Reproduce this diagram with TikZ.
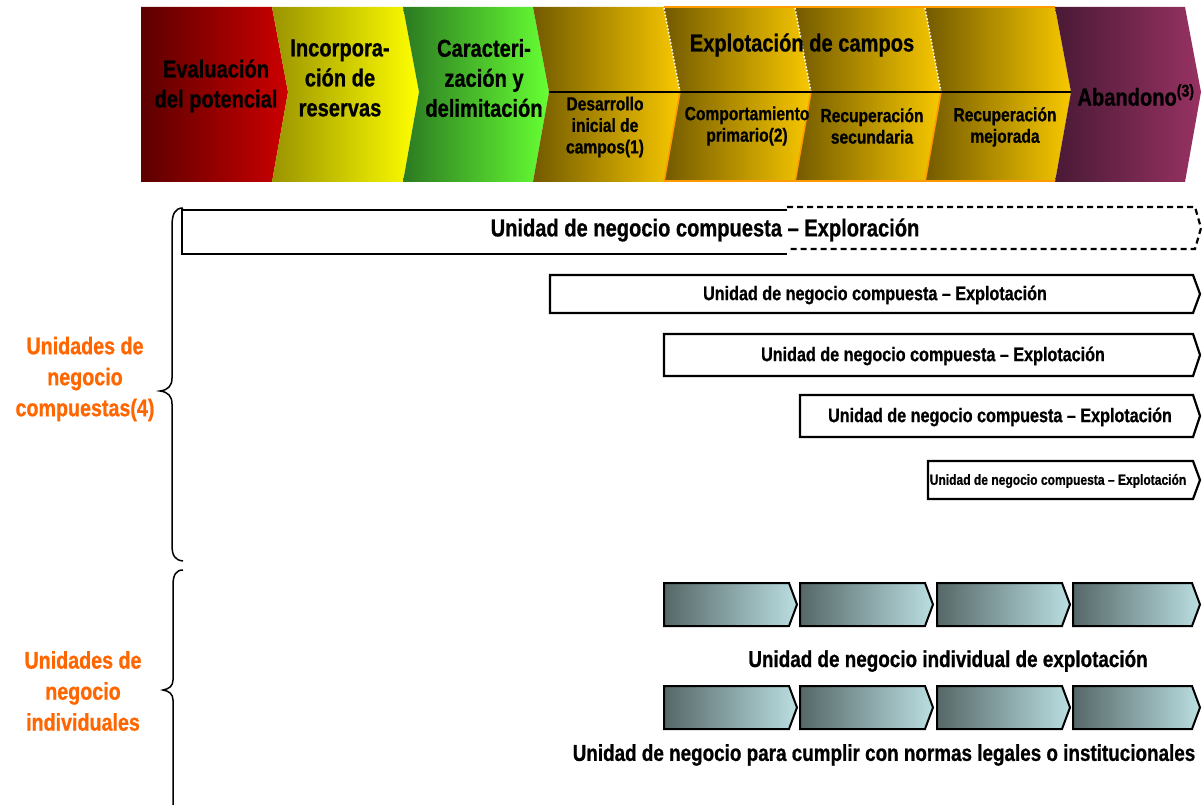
\documentclass[tikz,border=0pt]{standalone}
\usepackage{fontspec}
\setmainfont{Liberation Sans}
\newfontfamily\nar[FakeStretch=0.82,FakeBold=0.8]{Liberation Sans}
\definecolor{evalL}{HTML}{5C0000}
\definecolor{evalR}{HTML}{CC0000}
\definecolor{incL}{HTML}{9A9400}
\definecolor{incR}{HTML}{FFFF00}
\definecolor{carL}{HTML}{2C7A22}
\definecolor{carR}{HTML}{66FF33}
\definecolor{goldL}{HTML}{735A00}
\definecolor{goldR}{HTML}{F8C800}
\definecolor{abL}{HTML}{4A1A35}
\definecolor{abR}{HTML}{973262}
\definecolor{tealL}{HTML}{566868}
\definecolor{tealR}{HTML}{BADEE1}
\definecolor{grporange}{HTML}{FF9900}
\definecolor{lblorange}{HTML}{FF6600}
\tikzset{
  bigtxt/.style={inner sep=0pt, align=center, font=\nar\bfseries\fontsize{24.5}{30}\selectfont},
  smalltxt/.style={inner sep=0pt, align=center, font=\nar\bfseries\fontsize{19}{21.5}\selectfont},
  ubox/.style={draw=black, line width=2.2pt, line join=miter},
  boxtxt/.style={inner sep=0pt, font=\nar\bfseries\fontsize{19.7}{22}\selectfont},
  tchev/.style={draw=black, line width=2pt, left color=tealL, right color=tealR},
  lbl/.style={inner sep=0pt, align=center, text=lblorange, font=\nar\bfseries\fontsize{24}{31}\selectfont},
  bracepath/.style={draw=black, line width=1.5pt},
  untxt/.style={inner sep=0pt, font=\nar\bfseries\fontsize{23}{26}\selectfont}
}
\begin{document}
\begin{tikzpicture}[x=1pt,y=-1pt]
\useasboundingbox (0,0) rectangle (1202,805);
% ---- top value chain ----
\shade[left color=evalL, right color=evalR] (141,7) -- (272,7) -- (288,92) -- (272,182) -- (141,182) -- cycle;
\shade[left color=incL, right color=incR] (272,7) -- (403,7) -- (419,92) -- (403,182) -- (272,182) -- (288,92) -- cycle;
\shade[left color=carL, right color=carR] (403,7) -- (533,7) -- (549,92) -- (533,182) -- (403,182) -- (419,92) -- cycle;
\shade[left color=goldL, right color=goldR] (533,7) -- (664,7) -- (680,92) -- (664,182) -- (533,182) -- (549,92) -- cycle;
\shade[left color=goldL, right color=goldR] (664,7) -- (795,7) -- (811,92) -- (795,182) -- (664,182) -- (680,92) -- cycle;
\shade[left color=goldL, right color=goldR] (795,7) -- (925,7) -- (941,92) -- (925,182) -- (795,182) -- (811,92) -- cycle;
\shade[left color=goldL, right color=goldR] (925,7) -- (1055,7) -- (1071,92) -- (1055,182) -- (925,182) -- (941,92) -- cycle;
\shade[left color=abL, right color=abR] (1055,7) -- (1185,7) -- (1201,92) -- (1185,182) -- (1055,182) -- (1071,92) -- cycle;
% group outline
\draw[grporange, line width=2pt] (664,7.5) -- (1055,7.5);
\draw[grporange, line width=2pt] (664,181) -- (1055,181);
\draw[grporange, line width=1.6pt] (680,92) -- (664,182);
\draw[grporange, line width=1.6pt] (811,92) -- (795,182);
\draw[grporange, line width=1.6pt] (941,92) -- (925,182);
\draw[white, line width=1.5pt, dotted] (664,8) -- (680,92);
\draw[white, line width=1.5pt, dotted] (795,8) -- (811,92);
\draw[white, line width=1.5pt, dotted] (925,8) -- (941,92);
\draw[black, line width=1.6pt] (549,92) -- (1071,92);
% texts
\node[bigtxt] (eval) at (216,86) {Evaluación\\del potencial};
\node[bigtxt] (inc) at (340,78) {Incorpora-\\ción de\\reservas};
\node[bigtxt] (car) at (484,78) {Caracteri-\\zación y\\delimitación};
\node[bigtxt] (expl) at (802,45) {Explotación de campos};
\node[smalltxt] (des) at (605,127) {Desarrollo\\inicial de\\campos(1)};
\node[smalltxt] (comp) at (747,126) {Comportamiento\\primario(2)};
\node[smalltxt] (rsec) at (872,126) {Recuperación\\secundaria};
\node[smalltxt] (rmej) at (1005,127) {Recuperación\\mejorada};
\node[bigtxt] (aban) at (1136,95) {Abandono\textsuperscript{(3)}};
% ---- composite units ----
\draw[ubox] (787,210) -- (182,210) -- (182,254) -- (787,254);
\draw[ubox, dash pattern=on 6pt off 4pt] (787,207) -- (1195,207) -- (1201,228) -- (1195,249) -- (787,249);
\node[boxtxt, font=\nar\bfseries\fontsize{24.5}{26}\selectfont] (bexp) at (705,230) {Unidad de negocio compuesta – Exploración};
\draw[ubox] (550,275) -- (1193,275) -- (1200,294) -- (1193,313) -- (550,313) -- cycle;
\node[boxtxt] (b1) at (875,295) {Unidad de negocio compuesta – Explotación};
\draw[ubox] (664,334) -- (1193,334) -- (1200,355) -- (1193,376) -- (664,376) -- cycle;
\node[boxtxt] (b2) at (933,356) {Unidad de negocio compuesta – Explotación};
\draw[ubox] (800,395) -- (1193,395) -- (1200,416) -- (1193,437) -- (800,437) -- cycle;
\node[boxtxt] (b3) at (1000,417) {Unidad de negocio compuesta – Explotación};
\draw[ubox] (928,461) -- (1193,461) -- (1200,480) -- (1193,499) -- (928,499) -- cycle;
\node[boxtxt, font=\nar\bfseries\fontsize{14.7}{16}\selectfont] (b4) at (1058,481) {Unidad de negocio compuesta – Explotación};
% ---- individual units ----
\foreach \y in {583,686}{
  \foreach \x in {664,800,937}{
    \draw[tchev] (\x,\y) -- (\x+125,\y) -- (\x+133,\y+21.5) -- (\x+125,\y+43) -- (\x,\y+43) -- cycle;
  }
  \draw[tchev] (1073,\y) -- (1192,\y) -- (1200,\y+21.5) -- (1192,\y+43) -- (1073,\y+43) -- cycle;
}
\node[untxt] (ind) at (948,661) {Unidad de negocio individual de explotación};
\node[untxt] (leg) at (884,755) {Unidad de negocio para cumplir con normas legales o institucionales};
% ---- braces ----
\draw[bracepath] (183,208) .. controls (175,208) and (172,214) .. (172,226) -- (172,378) .. controls (172,386) and (168,390) .. (160,391) .. controls (168,392) and (172,396) .. (172,404) -- (172,545) .. controls (172,556) and (175,560) .. (183,561);
\draw[bracepath] (183,570) .. controls (176,570) and (173,575) .. (173,585) -- (173,680) .. controls (173,686) and (169,689) .. (163,690) .. controls (169,691) and (173,694) .. (173,700) -- (173,806);
\node[lbl] (lc) at (85,379) {Unidades de\\negocio\\compuestas(4)};
\node[lbl] (li) at (83,691) {Unidades de\\negocio\\individuales};
\end{tikzpicture}
\end{document}
